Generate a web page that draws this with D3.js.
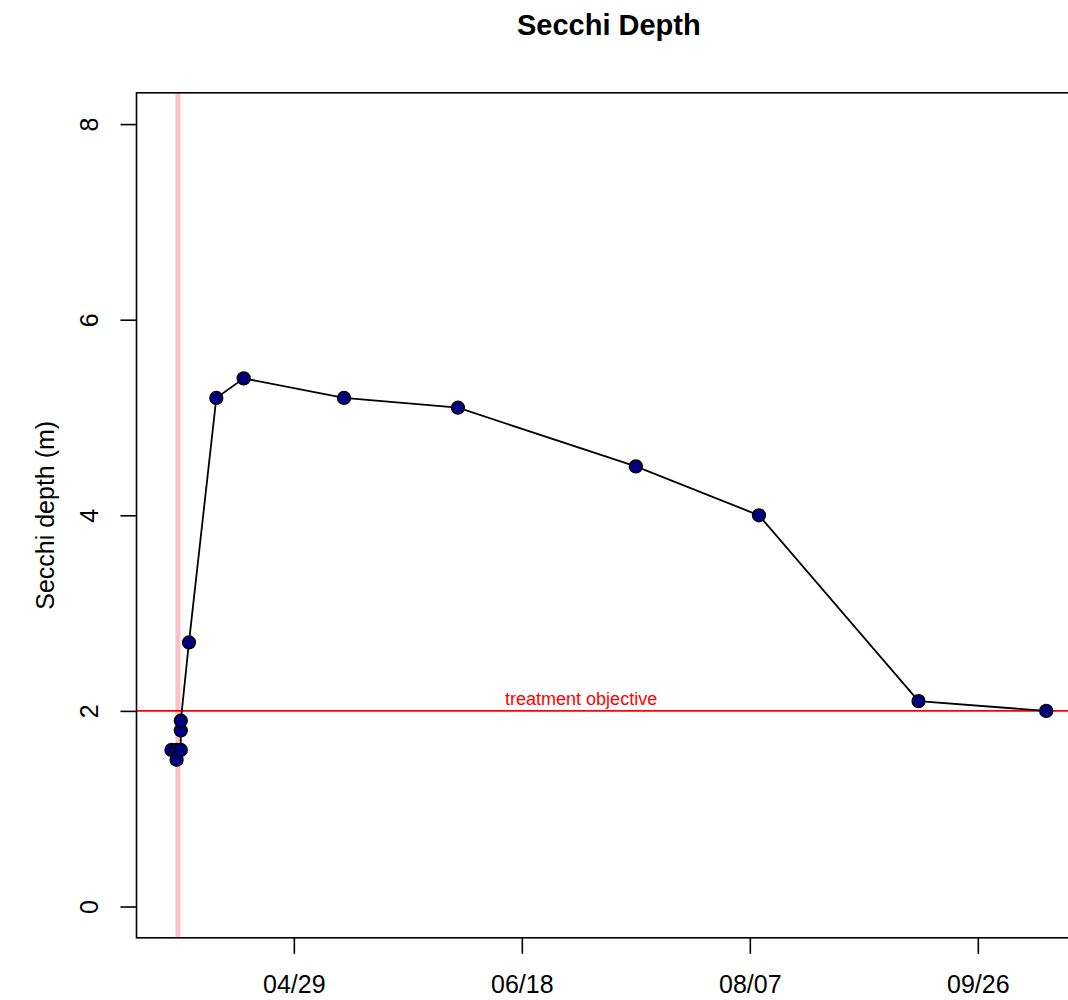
<!DOCTYPE html>
<html>
<head>
<meta charset="utf-8">
<script src="https://cdn.jsdelivr.net/npm/d3@7"></script>
<style>
  html, body { margin: 0; padding: 0; background: #fff; }
  svg { display: block; font-family: "Liberation Sans", Arial, Helvetica, sans-serif; }
</style>
</head>
<body>
<svg id="chart" width="1068" height="1000"></svg>
<script>
// Secchi depth samples (date/time, metres)
const sampleDates = [
  "2019-04-02 04:00", "2019-04-03 07:00", "2019-04-03 07:00",
  "2019-04-04 05:00", "2019-04-04 05:00", "2019-04-04 05:00",
  "2019-04-06 00:00", "2019-04-12 00:00", "2019-04-18 00:00",
  "2019-05-10 00:00", "2019-06-04 00:00", "2019-07-13 00:00",
  "2019-08-09 00:00", "2019-09-13 00:00", "2019-10-11 00:00"
];
const secchiDepth = [1.6, 1.6, 1.5, 1.6, 1.8, 1.9, 2.7, 5.2, 5.4, 5.2, 5.1, 4.5, 4.0, 2.1, 2.0];

// Treatment date and objective
const treatmentDate = "2019-04-03 14:00";
const objectiveDepth = 2;
const objectiveLabel = "treatment objective";
const objectiveLabelDate = "2019-07-01 00:00";

// Axis ticks
const xTickDates = ["2019-04-29", "2019-06-18", "2019-08-07", "2019-09-26"];
const yTickValues = [0, 2, 4, 6, 8];
const yLimits = [0, 8];

const titleText = "Secchi Depth";
const yLabelText = "Secchi depth (m)";

const parseDT = d3.timeParse("%Y-%m-%d %H:%M");
const parseD = d3.timeParse("%Y-%m-%d");
const fmt = d3.timeFormat("%m/%d");

const data = sampleDates.map((d, i) => ({ date: parseDT(d), value: secchiDepth[i] }));

const svg = d3.select("#chart");
const plot = { left: 136.5, right: 1081.2, top: 92.8, bottom: 937.8 };

// extend ranges by 4% on each side
const xExt = d3.extent(data, d => d.date);
const xPad = (xExt[1] - xExt[0]) * 0.04;
const x = d3.scaleTime()
  .domain([new Date(+xExt[0] - xPad), new Date(+xExt[1] + xPad)])
  .range([plot.left, plot.right]);

const yPad = (yLimits[1] - yLimits[0]) * 0.04;
const y = d3.scaleLinear()
  .domain([yLimits[0] - yPad, yLimits[1] + yPad])
  .range([plot.bottom, plot.top]);

const clipId = "plotClip";
svg.append("defs").append("clipPath").attr("id", clipId)
  .append("rect")
  .attr("x", plot.left).attr("y", plot.top)
  .attr("width", plot.right - plot.left).attr("height", plot.bottom - plot.top);

const inner = svg.append("g").attr("clip-path", `url(#${clipId})`);

// treatment date marker
inner.append("line")
  .attr("x1", x(parseDT(treatmentDate))).attr("x2", x(parseDT(treatmentDate)))
  .attr("y1", plot.top).attr("y2", plot.bottom)
  .attr("stroke", "#ffc0cb").attr("stroke-width", 5);

// objective line
inner.append("line")
  .attr("x1", plot.left).attr("x2", plot.right)
  .attr("y1", y(objectiveDepth)).attr("y2", y(objectiveDepth))
  .attr("stroke", "#ff0000").attr("stroke-width", 1.8);

inner.append("text")
  .attr("x", x(parseDT(objectiveLabelDate)))
  .attr("y", y(objectiveDepth) - 6)
  .attr("text-anchor", "middle")
  .attr("fill", "#ff0000")
  .attr("font-size", 18)
  .text(objectiveLabel);

// series line
inner.append("path")
  .datum(data)
  .attr("fill", "none")
  .attr("stroke", "#000")
  .attr("stroke-width", 1.8)
  .attr("d", d3.line().x(d => x(d.date)).y(d => y(d.value)));

// points
inner.selectAll("circle.pt")
  .data(data)
  .join("circle")
  .attr("class", "pt")
  .attr("cx", d => x(d.date))
  .attr("cy", d => y(d.value))
  .attr("r", 6.4)
  .attr("fill", "#000080")
  .attr("stroke", "#000")
  .attr("stroke-width", 1.5);

// plot box
svg.append("rect")
  .attr("x", plot.left).attr("y", plot.top)
  .attr("width", plot.right - plot.left).attr("height", plot.bottom - plot.top)
  .attr("fill", "none").attr("stroke", "#000").attr("stroke-width", 1.6);

// x axis
const xAxis = d3.axisBottom(x)
  .tickValues(xTickDates.map(parseD))
  .tickFormat(fmt)
  .tickSize(16)
  .tickPadding(21.5);
const gx = svg.append("g")
  .attr("transform", `translate(0,${plot.bottom})`)
  .call(xAxis);
gx.select(".domain").remove();
gx.selectAll(".tick line").attr("stroke", "#000").attr("stroke-width", 1.6);
gx.selectAll(".tick text").attr("font-size", 25).attr("fill", "#000").attr("font-family", null);

// y axis
const yAxis = d3.axisLeft(y)
  .tickValues(yTickValues)
  .tickFormat(d3.format("d"))
  .tickSize(16);
const gy = svg.append("g")
  .attr("transform", `translate(${plot.left},0)`)
  .call(yAxis);
gy.select(".domain").remove();
gy.selectAll(".tick line").attr("stroke", "#000").attr("stroke-width", 1.6);
gy.selectAll(".tick text")
  .attr("font-size", 25).attr("fill", "#000").attr("font-family", null)
  .attr("x", null).attr("dy", null)
  .attr("text-anchor", "middle")
  .attr("transform", "translate(-39,0) rotate(-90)");

// title
svg.append("text")
  .attr("x", (plot.left + plot.right) / 2)
  .attr("y", 35)
  .attr("text-anchor", "middle")
  .attr("font-size", 29)
  .attr("font-weight", "bold")
  .text(titleText);

// y label
svg.append("text")
  .attr("transform", `translate(54,${(plot.top + plot.bottom) / 2}) rotate(-90)`)
  .attr("text-anchor", "middle")
  .attr("font-size", 25)
  .text(yLabelText);
</script>
</body>
</html>
